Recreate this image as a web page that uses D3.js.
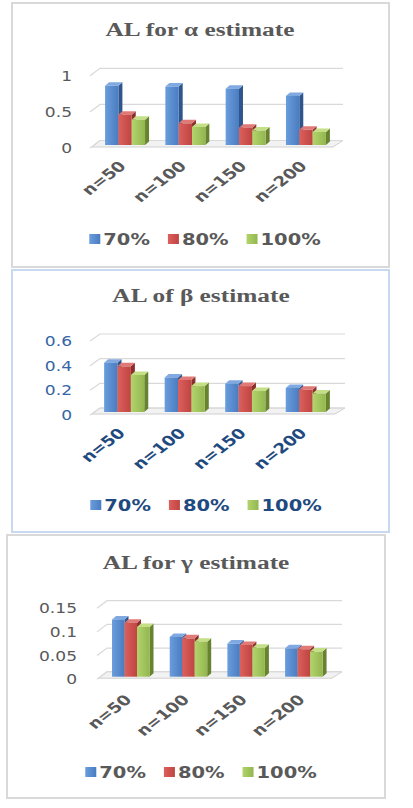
<!DOCTYPE html>
<html>
<head>
<meta charset="utf-8">
<script src="https://cdn.jsdelivr.net/npm/d3@7"></script>
<style>
  html, body { margin: 0; padding: 0; background: #fff; }
  svg { display: block; }
</style>
</head>
<body>
<svg id="chart" width="413" height="808"></svg>
<script>
// ---------- data ----------
const categories = ["n=50", "n=100", "n=150", "n=200"];
const seriesNames = ["70%", "80%", "100%"];

const alpha70  = [0.82, 0.81, 0.78, 0.68];
const alpha80  = [0.42, 0.30, 0.24, 0.21];
const alpha100 = [0.35, 0.25, 0.20, 0.18];

const beta70  = [0.40, 0.28, 0.23, 0.195];
const beta80  = [0.37, 0.26, 0.21, 0.18];
const beta100 = [0.30, 0.21, 0.17, 0.15];

const gamma70  = [0.121, 0.084, 0.070, 0.060];
const gamma80  = [0.114, 0.081, 0.067, 0.058];
const gamma100 = [0.105, 0.074, 0.061, 0.053];

const alphaTicks = [0, 0.5, 1];
const alphaTickLabels = ["0", "0.5", "1"];
const betaTicks = [0, 0.2, 0.4, 0.6];
const betaTickLabels = ["0", "0.2", "0.4", "0.6"];
const gammaTicks = [0, 0.05, 0.1, 0.15];
const gammaTickLabels = ["0", "0.05", "0.1", "0.15"];

const titles = ["AL for \u03B1 estimate", "AL of \u03B2 estimate", "AL for \u03B3 estimate"];

// ---------- styling ----------
const SX = 1.3; // horizontal stretch of the reference picture
const faceColors = [
  { front: ["#6a9ddd", "#4a7cc0"], side: "#2f568c", top: "#7fa9e0" },
  { front: ["#dc605c", "#bf4542"], side: "#8a2f2d", top: "#e07a77" },
  { front: ["#b3d46c", "#93b64e"], side: "#67832f", top: "#c4df86" }
];

const svg = d3.select("#chart");
const defs = svg.append("defs");
faceColors.forEach((c, i) => {
  const g = defs.append("linearGradient").attr("id", "grad" + i)
    .attr("x1", "0").attr("x2", "1").attr("y1", "0").attr("y2", "0");
  g.append("stop").attr("offset", "0%").attr("stop-color", c.front[0]);
  g.append("stop").attr("offset", "100%").attr("stop-color", c.front[1]);
});

function stretchedText(parent, x, y, txt, opts) {
  return parent.append("text")
    .attr("transform", `translate(${x},${y}) scale(${opts.sx || SX},1)` + (opts.rotate ? ` rotate(${opts.rotate})` : ""))
    .attr("text-anchor", opts.anchor || "start")
    .attr("font-family", opts.family || "DejaVu Sans, sans-serif")
    .attr("font-size", opts.size)
    .attr("font-weight", opts.weight || "normal")
    .attr("fill", opts.fill)
    .text(txt);
}

const panels = [
  {
    title: titles[0], series: [alpha70, alpha80, alpha100],
    ticks: alphaTicks, tickLabels: alphaTickLabels, yMax: 1,
    box: [12, 3, 389, 267], border: "#d9d9d9",
    titleX: 200, titleY: 36,
    backY: [140.5, 68.3], gridFrontX: 90, gridBackX: 100, gridRight: 343,
    frontDy: 7.5, barDy: 4.5, labelRight: 72,
    band: [90, 341], padIn: 0.337,
    tickColor: "#595959", catColor: "#595959", legColor: "#595959",
    catDy: 22, legendY: 239, legendCx: 205
  },
  {
    title: titles[1], series: [beta70, beta80, beta100],
    ticks: betaTicks, tickLabels: betaTickLabels, yMax: 0.6,
    box: [12, 270, 389, 532], border: "#c6d9f1",
    titleX: 201, titleY: 301.5,
    backY: [408, 334], gridFrontX: 90, gridBackX: 100, gridRight: 345,
    frontDy: 7, barDy: 4, labelRight: 72,
    band: [89, 341], padIn: 0.337,
    tickColor: "#3565a5", catColor: "#1f4a80", legColor: "#1f4a80",
    catDy: 22, legendY: 505, legendCx: 206
  },
  {
    title: titles[2], series: [gamma70, gamma80, gamma100],
    ticks: gammaTicks, tickLabels: gammaTickLabels, yMax: 0.15,
    box: [7, 535, 385, 798], border: "#d9d9d9",
    titleX: 196, titleY: 569,
    backY: [671.7, 600.7], gridFrontX: 97, gridBackX: 107, gridRight: 342,
    frontDy: 7.5, barDy: 5, labelRight: 77,
    band: [97.6, 337], padIn: 0.35,
    tickColor: "#595959", catColor: "#595959", legColor: "#595959",
    catDy: 24, legendY: 772, legendCx: 201
  }
];

panels.forEach(p => {
  const g = svg.append("g");
  // panel border
  g.append("rect")
    .attr("x", p.box[0]).attr("y", p.box[1])
    .attr("width", p.box[2] - p.box[0]).attr("height", p.box[3] - p.box[1])
    .attr("fill", "#fff").attr("stroke", p.border).attr("stroke-width", 2);

  // title
  stretchedText(g, p.titleX, p.titleY, p.title, {
    anchor: "middle", family: "Liberation Serif, Times New Roman, serif",
    size: 19.5, weight: "bold", fill: "#595959", sx: 1.3
  });

  const y = d3.scaleLinear().domain([0, p.yMax]).range(p.backY);
  const x0 = d3.scaleBand().domain(categories).range(p.band)
    .paddingInner(p.padIn).paddingOuter(0.25);
  const x1 = d3.scaleBand().domain(seriesNames).range([0, x0.bandwidth()]);

  const depthX = p.gridBackX - p.gridFrontX;

  // floor
  const y0 = y(0);
  g.append("path")
    .attr("d", `M${p.gridFrontX + 2},${y0 + p.frontDy - 1} L${p.gridRight - depthX},${y0 + p.frontDy - 1} L${p.gridRight},${y0} L${p.gridBackX},${y0} Z`)
    .attr("fill", "#f2f2f2").attr("stroke", "#d0d0d0").attr("stroke-width", 1);

  // gridlines (back wall with slanted left side wall edge)
  p.ticks.forEach((t, i) => {
    const yy = y(t);
    g.append("path")
      .attr("d", `M${p.gridFrontX},${yy + p.frontDy} L${p.gridBackX},${yy} L${p.gridRight},${yy}`)
      .attr("fill", "none").attr("stroke", "#d9d9d9").attr("stroke-width", 1.2);
    stretchedText(g, p.labelRight, yy + p.frontDy + 5, p.tickLabels[i], {
      anchor: "end", size: 14, fill: p.tickColor, sx: 1.22
    });
  });

  // bars
  const dX = 4, dY = 3.5;
  categories.forEach((cat, ci) => {
    seriesNames.forEach((s, si) => {
      const v = p.series[si][ci];
      const bx = x0(cat) + x1(s);
      const bw = x1.bandwidth();
      const top = y(v) + p.barDy;
      const base = y(0) + p.barDy;
      const c = faceColors[si];
      // side face
      g.append("path")
        .attr("d", `M${bx + bw},${top} L${bx + bw + dX},${top - dY} L${bx + bw + dX},${base - dY} L${bx + bw},${base} Z`)
        .attr("fill", c.side);
      // top face
      g.append("path")
        .attr("d", `M${bx},${top} L${bx + dX},${top - dY} L${bx + bw + dX},${top - dY} L${bx + bw},${top} Z`)
        .attr("fill", c.top);
      // front face
      g.append("rect")
        .attr("x", bx).attr("y", top).attr("width", bw).attr("height", base - top)
        .attr("fill", `url(#grad${si})`);
    });
  });

  // category labels (rotated)
  categories.forEach(cat => {
    const cx = x0(cat) + x0.bandwidth() / 2 + 2;
    stretchedText(g, cx, y(0) + p.barDy + p.catDy, cat, {
      anchor: "end", size: 14, weight: "bold", fill: p.catColor, sx: 1.3, rotate: -45
    });
  });

  // legend
  const lg = g.append("g");
  const items = [];
  let cursor = 0;
  seriesNames.forEach((s, si) => {
    const it = lg.append("g");
    it.append("rect").attr("x", cursor).attr("y", p.legendY - 5).attr("width", 11).attr("height", 10)
      .attr("fill", `url(#grad${si})`);
    const t = stretchedText(it, cursor + 14, p.legendY + 5.5, s, {
      anchor: "start", size: 15, weight: "bold", fill: p.legColor, sx: 1.3
    });
    const w = t.node().getComputedTextLength() * 1.3;
    cursor += 14 + w + 18;
    items.push(it);
  });
  const total = cursor - 18;
  lg.attr("transform", `translate(${p.legendCx - total / 2},0)`);
});
</script>
</body>
</html>
